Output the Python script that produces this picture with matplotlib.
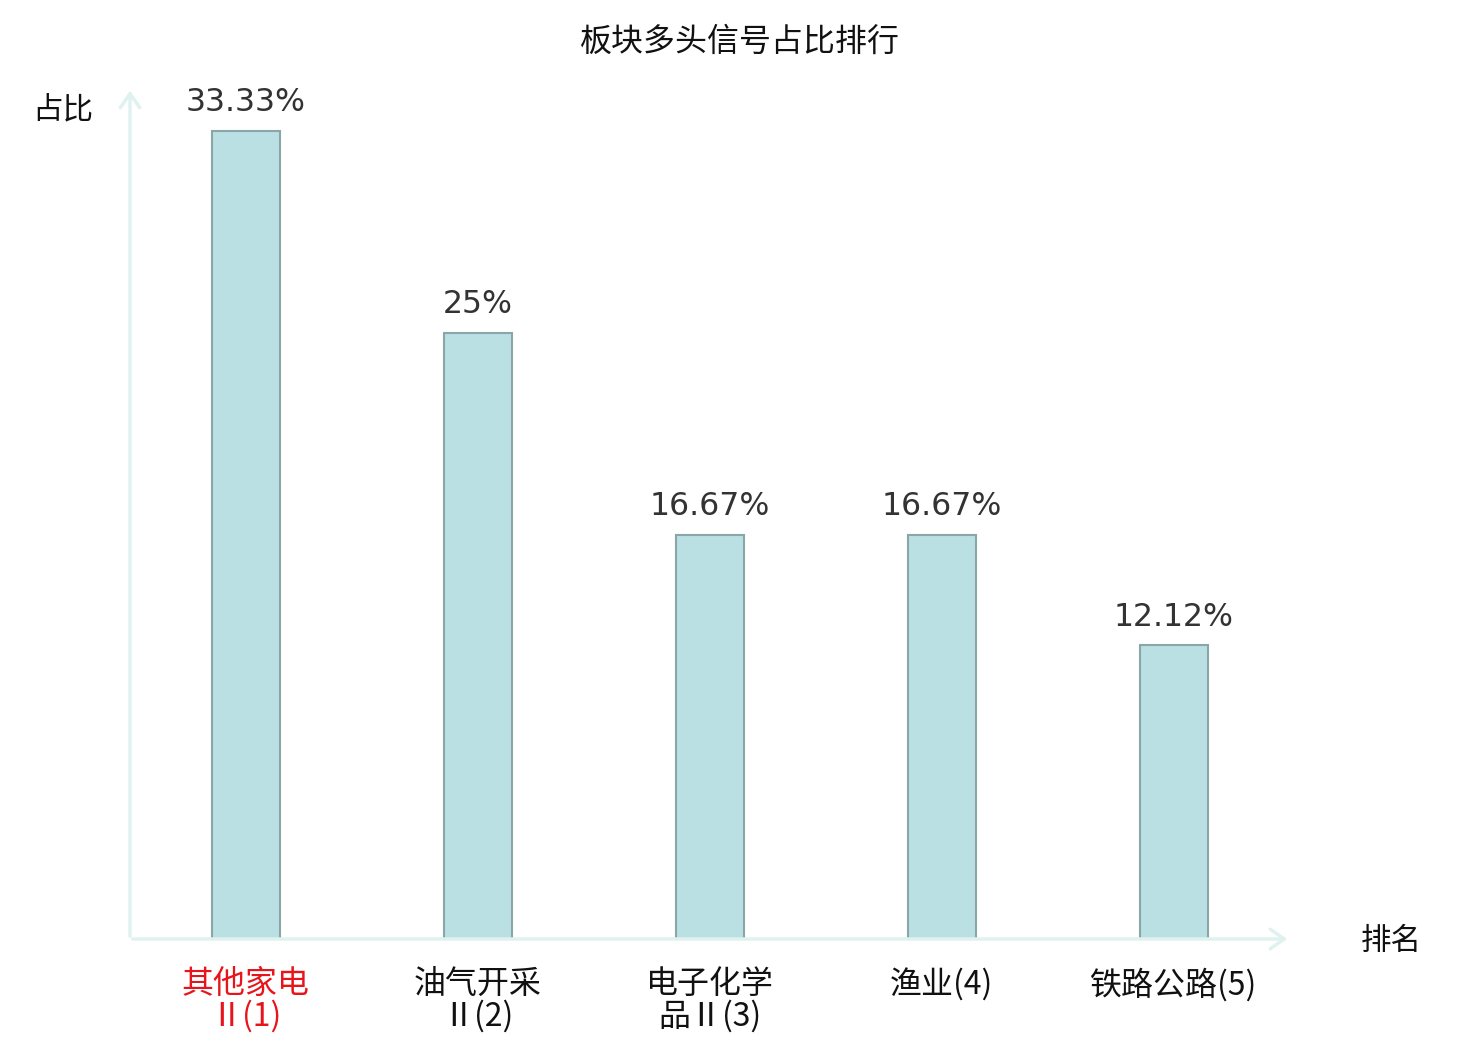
import matplotlib
matplotlib.use("Agg")
import matplotlib.pyplot as plt

plt.rcParams['font.family'] = ['Noto Sans CJK SC', 'DejaVu Sans']

categories = ["其他家电\nⅡ(1)", "油气开采\nⅡ(2)", "电子化学\n品Ⅱ(3)", "渔业(4)", "铁路公路(5)"]
values = [33.33, 25, 16.67, 16.67, 12.12]
label_colors = ["#e8141b", "#111111", "#111111", "#111111", "#111111"]

fig = plt.figure(figsize=(14.8, 10.4), dpi=100)
ax = fig.add_axes([130 / 1480, 101 / 1040, 1160 / 1480, 851 / 1040])

x = list(range(len(values)))
ax.bar(x, values, width=0.293, color="#bbe0e3", edgecolor="#8aa6a6", linewidth=1.5, zorder=3)

for xi, v in zip(x, values):
    ax.annotate(f"{v:g}%", (xi, v), xytext=(0, 9), textcoords="offset points",
                ha="center", va="bottom", fontsize=22.7, color="#333333", family="DejaVu Sans")

ax.set_xlim(-0.5, 4.5)
ax.set_ylim(0, 35.1)
for s in ax.spines.values():
    s.set_visible(False)
ax.set_yticks([])
ax.set_xticks(x)
ax.set_xticklabels(categories, fontsize=23, linespacing=1.0)
for lab, c in zip(ax.get_xticklabels(), label_colors):
    lab.set_color(c)
ax.tick_params(axis="x", length=0, pad=21)

# axes drawn as light arrows
axis_col = "#dff2ef"
arrow = dict(arrowstyle="->,head_length=1.0,head_width=0.7", color=axis_col, lw=2.5)
ax.annotate("", xy=(1.0, 0), xytext=(0, 0), xycoords="axes fraction", arrowprops=arrow)
ax.annotate("", xy=(0, 1.0), xytext=(0, 0), xycoords="axes fraction", arrowprops=arrow)

fig.text(63 / 1480, 1 - 110 / 1040, "占比", fontsize=22, ha="center", va="center", color="#111111")
fig.text(1391 / 1480, 1 - 941 / 1040, "排名", fontsize=22, ha="center", va="center", color="#111111")
fig.text(0.5, 1 - 42 / 1040, "板块多头信号占比排行", fontsize=23, ha="center", va="center", color="#111111")

fig.savefig("out.png", dpi=100)
